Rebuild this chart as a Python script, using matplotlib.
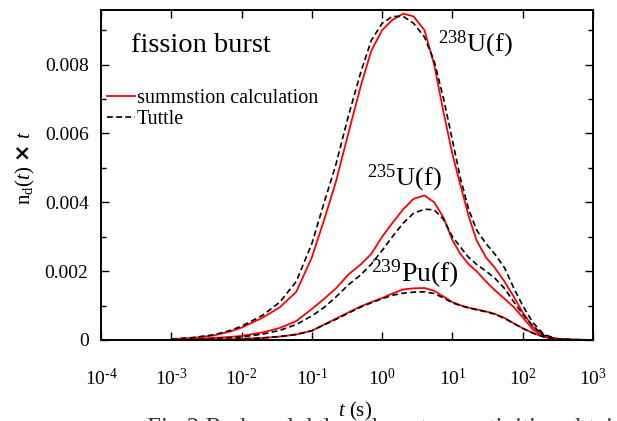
import numpy as np
import matplotlib
matplotlib.use("Agg")
import matplotlib.pyplot as plt
from matplotlib.ticker import FuncFormatter, MultipleLocator, NullLocator, LogLocator

plt.rcParams['font.family'] = ['Liberation Serif', 'DejaVu Serif']
plt.rcParams['mathtext.fontset'] = 'custom'
plt.rcParams['mathtext.rm'] = 'Liberation Serif'
plt.rcParams['mathtext.it'] = 'Liberation Serif:italic'
plt.rcParams['mathtext.bf'] = 'DejaVu Sans:bold'

# time (s)
t = [1e-3, 2e-3, 4e-3, 7e-3, 0.01, 0.02, 0.035, 0.06, 0.1, 0.15, 0.22, 0.33, 0.5, 0.7,
     1.0, 1.4, 2.0, 2.8, 4.0, 5.5, 7.5, 10, 13, 17, 22, 30, 40, 55, 75, 100, 140, 200,
     300, 500, 1000]

# 238U(f)
u238_sum = [0.00002, 0.00006, 0.00013, 0.00025, 0.00036, 0.00065, 0.00095, 0.0014, 0.0024, 0.0035,
            0.0046, 0.0060, 0.0074, 0.0084, 0.0090, 0.0093, 0.00948, 0.0094, 0.0090, 0.0080,
            0.0066, 0.0054, 0.0045, 0.0036, 0.0029, 0.0024, 0.0021, 0.0017, 0.00125, 0.0008,
            0.00038, 0.00013, 0.00004, 0.00001, 0.0]
u238_tut = [0.00003, 0.00007, 0.00015, 0.00028, 0.0004, 0.00072, 0.0011, 0.0017, 0.0028, 0.0040,
            0.0051, 0.0065, 0.0078, 0.0087, 0.0092, 0.0094, 0.0094, 0.0092, 0.0088, 0.0081,
            0.0070, 0.0058, 0.0047, 0.0038, 0.0032, 0.0028, 0.0025, 0.0021, 0.0015, 0.0010,
            0.0005, 0.00016, 0.00004, 0.00001, 0.0]

# 235U(f)
u235_sum = [0.00001, 0.00003, 0.00006, 0.00009, 0.00012, 0.00022, 0.00035, 0.00055, 0.0009, 0.0012,
            0.0015, 0.0019, 0.0022, 0.0025, 0.0030, 0.0034, 0.0038, 0.0041, 0.0042, 0.0040,
            0.00355, 0.0029, 0.0025, 0.0022, 0.0020, 0.0017, 0.00145, 0.0012, 0.00095, 0.00066,
            0.0003, 0.0001, 0.00002, 0.0, 0.0]
u235_tut = [0.00001, 0.00002, 0.00004, 0.00007, 0.00009, 0.00017, 0.00028, 0.00045, 0.0007, 0.00095,
            0.00125, 0.0016, 0.0019, 0.0022, 0.0026, 0.0030, 0.0034, 0.00368, 0.0038, 0.00378,
            0.0035, 0.0030, 0.0027, 0.0024, 0.0022, 0.0020, 0.0018, 0.0015, 0.0011, 0.00075,
            0.0004, 0.00013, 0.00003, 0.0, 0.0]

# 239Pu(f)
pu239_sum = [0.000003, 0.000007, 0.000013, 0.00002, 0.00003, 0.00006, 0.0001, 0.00016, 0.00027, 0.00045,
             0.00062, 0.0008, 0.00098, 0.0011, 0.00122, 0.00135, 0.00147, 0.0015, 0.00151, 0.00143,
             0.00126, 0.0011, 0.00101, 0.00094, 0.00089, 0.00083, 0.00076, 0.00064, 0.00048, 0.00034,
             0.0002, 0.00009, 0.00003, 0.00001, 0.0]
pu239_tut = [0.000003, 0.000007, 0.000013, 0.00002, 0.00003, 0.00006, 0.0001, 0.00016, 0.00027, 0.00044,
             0.0006, 0.00078, 0.00096, 0.00108, 0.0012, 0.0013, 0.00136, 0.00139, 0.0014, 0.00135,
             0.00122, 0.00108, 0.001, 0.00093, 0.00088, 0.00082, 0.00075, 0.00063, 0.00048, 0.00034,
             0.0002, 0.00009, 0.00003, 0.00001, 0.0]

fig = plt.figure(figsize=(6.17, 4.21), dpi=100)
ax = fig.add_axes([0.1637, 0.1924, 0.7974, 0.785])

red_kw = dict(color='red', lw=1.3)
blk_kw = dict(color='black', lw=1.2, ls=(0, (3.5, 2)))

ax.plot(t, u238_sum, label='summstion calculation', **red_kw)
ax.plot(t, u238_tut, label='Tuttle', **blk_kw)
ax.plot(t, u235_sum, **red_kw)
ax.plot(t, u235_tut, **blk_kw)
ax.plot(t, pu239_sum, **red_kw)
ax.plot(t, pu239_tut, **blk_kw)


def xfmt(v, p):
    e = int(round(np.log10(v)))
    s = str(e).replace('-', r'\text{-}')
    return r'$10^{%s}$' % s


ax.set_xscale('log')
ax.set_xlim(1e-4, 1e3)
ax.set_ylim(0, 0.0096)
ax.xaxis.set_major_locator(LogLocator(base=10, numticks=10))
ax.xaxis.set_minor_locator(NullLocator())
ax.xaxis.set_major_formatter(FuncFormatter(xfmt))
ax.yaxis.set_major_locator(MultipleLocator(0.002))
ax.yaxis.set_minor_locator(MultipleLocator(0.001))
ax.yaxis.set_major_formatter(FuncFormatter(lambda v, p: '0' if v == 0 else '%.3f' % v))

ax.tick_params(which='both', direction='in', top=True, right=True, labelsize=14, width=1.0)
ax.tick_params(which='major', length=6)
ax.tick_params(which='minor', length=3.5)
ax.tick_params(axis='x', pad=20)
ax.tick_params(axis='y', pad=9)
for s in ax.spines.values():
    s.set_linewidth(1.4)

ax.set_xlabel('$t$ (s)', fontsize=15)
ax.xaxis.set_label_coords(0.516, -0.18)
ax.set_ylabel(r'n$_{\mathrm{d}}$($t$) $\mathbf{\times}$ $t$', fontsize=15)
ax.yaxis.set_label_coords(-0.13, 0.52)

ax.text(0.06, 0.89, 'fission burst', transform=ax.transAxes, fontsize=20.5, va='center')
ax.text(0.685, 0.895, r'$^{238}$U(f)', transform=ax.transAxes, fontsize=19, va='center')
ax.text(0.54, 0.49, r'$^{235}$U(f)', transform=ax.transAxes, fontsize=19, va='center')
ax.text(0.548, 0.2, r'$^{239}$Pu(f)', transform=ax.transAxes, fontsize=20, va='center')

leg = ax.legend(loc='upper left', bbox_to_anchor=(-0.005, 0.785), frameon=False, fontsize=14.5,
                handlelength=1.4, handletextpad=0.1, labelspacing=0.1, borderaxespad=0)

fig.text(147 / 617, 1 - 418 / 421, 'Fig.3 Reduced delayed neutron activities obtained by',
         fontsize=18, color='#333333', va='top', ha='left')

fig.savefig('out.png', dpi=100)
